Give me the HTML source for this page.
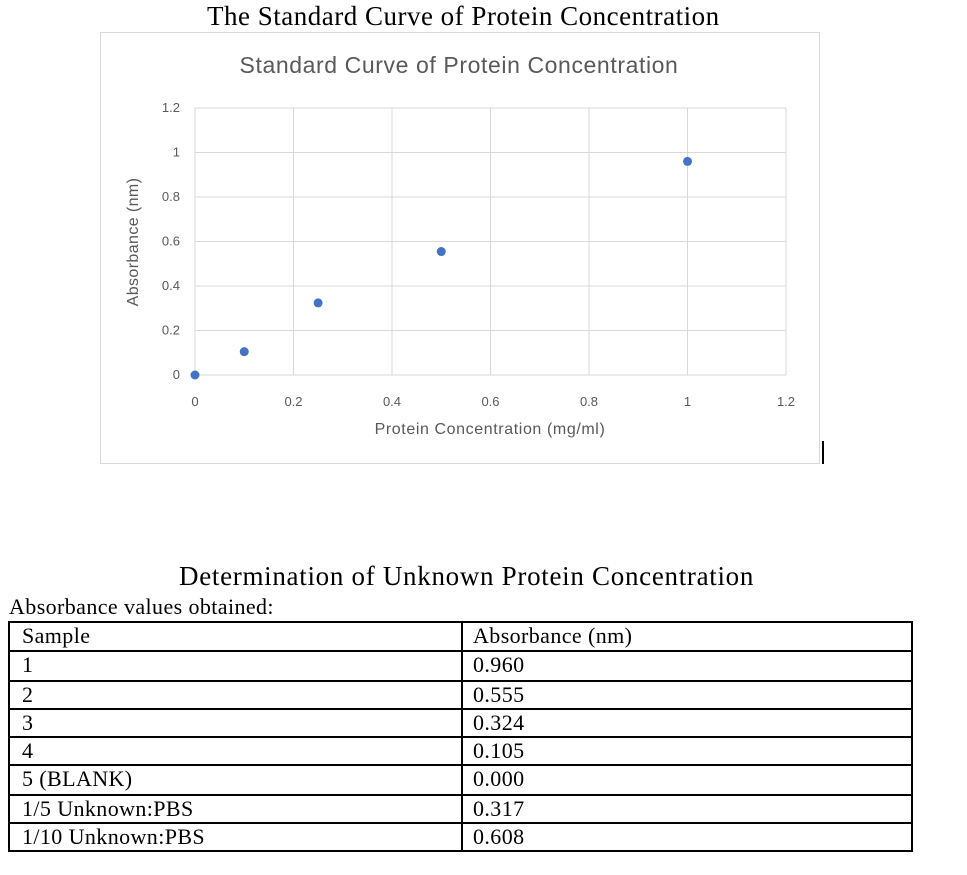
<!DOCTYPE html>
<html><head><meta charset="utf-8"><style>
body{margin:0;width:967px;height:875px;background:#fff;position:relative;overflow:hidden;font-family:"Liberation Serif",serif}
.t{position:absolute;white-space:nowrap;color:#000}
.ln{position:absolute;background:#000}
</style></head><body>
<div class="t" style="left:207px;top:1px;font-size:27px;letter-spacing:0.5px">The Standard Curve of Protein Concentration</div>
<svg style="position:absolute;left:0;top:0" width="967" height="480" id="chart" font-family="Liberation Sans, sans-serif"></svg>
<div class="ln" style="left:822px;top:441px;width:2px;height:23px"></div>
<div class="t" style="left:179px;top:561px;font-size:27px;letter-spacing:0.7px">Determination of Unknown Protein Concentration</div>
<div class="t" style="left:9px;top:594px;font-size:22px;letter-spacing:0.4px">Absorbance values obtained:</div>
<div id="tbl"></div>
<script>
const xVals=[0,0.1,0.25,0.5,1];
const yVals=[0,0.105,0.324,0.555,0.96];
const xTicks=[0,0.2,0.4,0.6,0.8,1,1.2];
const yTicks=[0,0.2,0.4,0.6,0.8,1,1.2];
const samples=["1","2","3","4","5 (BLANK)","1/5 Unknown:PBS","1/10 Unknown:PBS"];
const absorb=["0.960","0.555","0.324","0.105","0.000","0.317","0.608"];
const NS="http://www.w3.org/2000/svg";
const svg=document.getElementById('chart');
const X=v=>195+v/1.2*591, Y=v=>375-v/1.2*267;
function mk(t,a,txt){const e=document.createElementNS(NS,t);for(const k in a)e.setAttribute(k,a[k]);if(txt!==undefined)e.textContent=txt;svg.appendChild(e);return e;}
let e=mk('rect',{x:100.5,y:32.5,width:719,height:431,fill:'#fff',stroke:'#d9d9d9'});


e=mk('text',{x:459,y:73,'font-size':23,fill:'#595959','text-anchor':'middle','letter-spacing':'0.6'},'Standard Curve of Protein Concentration');


xTicks.forEach(v=>{e=mk('line',{x1:X(v),x2:X(v),y1:Y(1.2),y2:Y(0),stroke:'#d9d9d9'});


e=mk('text',{x:X(v),y:406,'font-size':13,fill:'#595959','text-anchor':'middle'},String(v));

});
yTicks.forEach(v=>{e=mk('line',{x1:X(0),x2:X(1.2),y1:Y(v),y2:Y(v),stroke:'#d9d9d9'});


e=mk('text',{x:180,y:Y(v)+4,'font-size':13,fill:'#595959','text-anchor':'end'},String(v));

});
e=mk('text',{x:490,y:434,'font-size':16,fill:'#595959','text-anchor':'middle','letter-spacing':'0.6'},'Protein Concentration (mg/ml)');


e=mk('text',{x:0,y:0,'font-size':16,fill:'#595959','text-anchor':'middle','letter-spacing':'0.4',transform:'translate(138,242) rotate(-90)'},'Absorbance (nm)');


xVals.forEach((v,i)=>{e=mk('circle',{cx:X(v),cy:Y(yVals[i]),r:4.5,fill:'#4472c4'});

});
const tb=document.getElementById('tbl');
const rowsY=[622,651,681,709,737,765,795,823,851];
const L=8,R=911,C=461;
function d(cls,st,txt,name){const el=document.createElement('div');el.className=cls;el.style.cssText=st;if(txt)el.textContent=txt;


tb.appendChild(el);}
rowsY.forEach(y=>d('ln',`left:${L}px;top:${y-1}px;width:${R-L+2}px;height:2px`,'','table-row-line'));
[L,C,R].forEach(x=>d('ln',`left:${x}px;top:621px;width:2px;height:231px`,'','table-col-line'));
const labels=["Sample"].concat(samples), vals=["Absorbance (nm)"].concat(absorb);
labels.forEach((s,i)=>{d('t',`left:22px;top:${rowsY[i]+1}px;font-size:22px;letter-spacing:0.4px`,s,'sample-cell');
d('t',`left:473px;top:${rowsY[i]+1}px;font-size:22px;letter-spacing:0.4px`,vals[i],'absorbance-cell');});
</script>
</body></html>
